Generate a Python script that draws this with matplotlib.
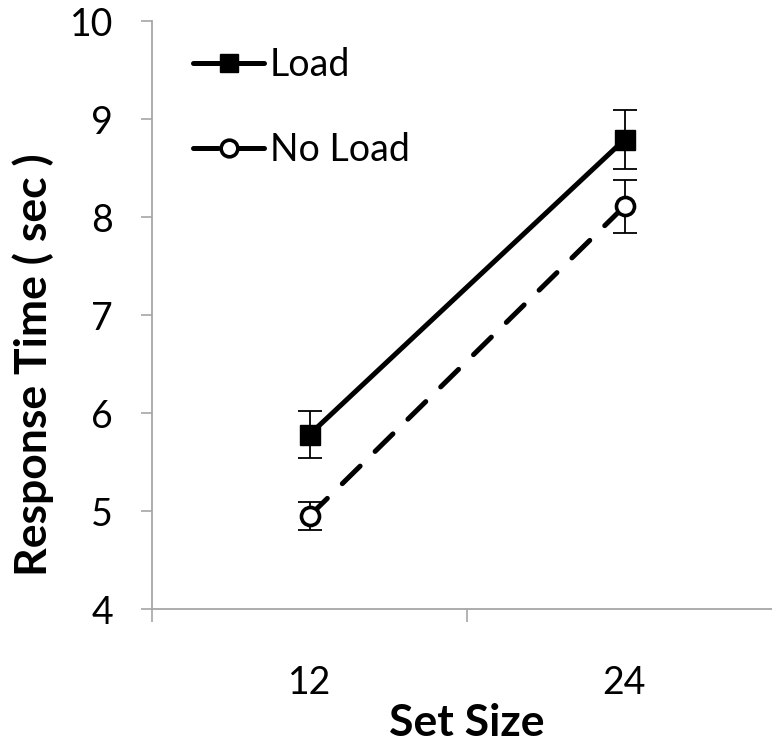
import matplotlib.pyplot as plt
from matplotlib.lines import Line2D
plt.rcParams.update({"font.family": ["Lato", "DejaVu Sans"]})

set_sizes = ["12", "24"]
load_rt = [5.78, 8.79]
load_err = [0.24, 0.30]
noload_rt = [4.95, 8.11]
noload_err = [0.14, 0.27]

x = list(range(len(set_sizes)))

fig = plt.figure(figsize=(7.72, 7.45), dpi=100)
# axis runs a bit past the right edge like the original
ax = fig.add_axes([152 / 772, (745 - 609) / 745, 630 / 772, 588 / 745])

dash = (0, (5, 4.2))
load_style = dict(color="black", lw=3.6, marker="s", ms=14, mfc="black", mec="black",
                  mew=1, solid_capstyle="round")
noload_style = dict(color="black", lw=3.6, ls=dash, dash_capstyle="round", marker="o",
                    ms=13, mfc="white", mec="black", mew=2.6)

ax.errorbar(x, load_rt, yerr=load_err, fmt="none", ecolor="black", elinewidth=1.3,
            capsize=8.5, capthick=1.3, zorder=2)
ax.errorbar(x, noload_rt, yerr=noload_err, fmt="none", ecolor="black", elinewidth=1.3,
            capsize=8.5, capthick=1.3, zorder=2)
ax.plot(x, load_rt, zorder=3, **load_style)
ax.plot(x, noload_rt, zorder=3, **noload_style)

ax.set_xlim(-0.5, 1.5)
ax.set_ylim(4, 10)
ax.set_yticks(range(4, 11))
ax.set_xticks(x)
ax.set_xticklabels(set_sizes)
ax.set_xticks([-0.5, 0.5, 1.5], minor=True)
ax.tick_params(axis="x", which="major", length=0, labelsize=27, pad=40)
ax.tick_params(axis="x", which="minor", length=9, width=1.2, color="#a6a6a6", direction="out")
ax.tick_params(axis="y", length=8, width=1.2, color="#a6a6a6", labelsize=27, pad=20)

for s in ["top", "right"]:
    ax.spines[s].set_visible(False)
for s in ["left", "bottom"]:
    ax.spines[s].set_color("#a6a6a6")
    ax.spines[s].set_linewidth(1.3)

ax.set_xlabel("Set Size", fontsize=32, fontweight="bold", labelpad=2)
ax.set_ylabel("Response Time ( sec )", fontsize=32, fontweight="bold")
ax.yaxis.set_label_coords(-0.156, 0.415)

handles = [Line2D([], [], **{**load_style, "ms": 13}),
           Line2D([], [], **{**noload_style, "ms": 12, "mew": 2.6})]
fig.legend(handles, ["Load", "No Load"], loc="upper left",
           bbox_to_anchor=(193 / 772, (745 - 47) / 745), frameon=False, fontsize=27,
           handlelength=1.9, handletextpad=0.15, labelspacing=1.3, borderpad=0,
           borderaxespad=0)

fig.savefig("out.png", dpi=100)
